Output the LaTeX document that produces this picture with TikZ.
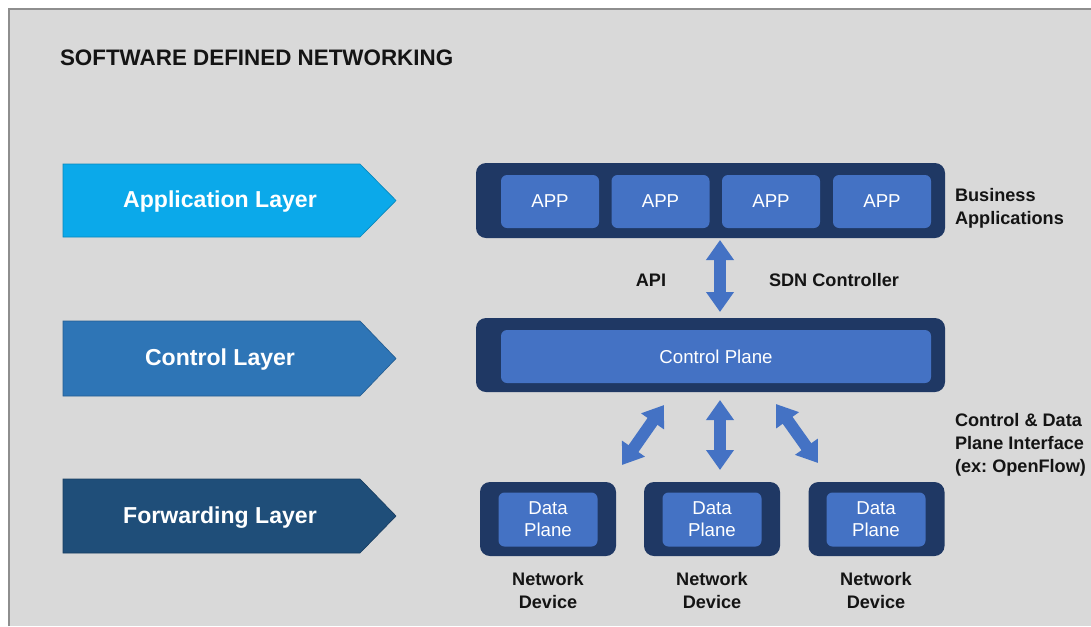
\documentclass[tikz,border=0pt]{standalone}
\usepackage{fontspec}
\setmainfont{Liberation Sans}
\usetikzlibrary{arrows.meta,calc}
\definecolor{bg}{HTML}{D9D9D9}
\definecolor{bordergray}{HTML}{8E8E8E}
\definecolor{appblue}{HTML}{0BA9EA}
\definecolor{ctrlblue}{HTML}{2E75B6}
\definecolor{fwdblue}{HTML}{1F4E79}
\definecolor{navy}{HTML}{1F3864}
\definecolor{midblue}{HTML}{4472C4}
\definecolor{ink}{HTML}{141414}
\newcommand\pxu{0.75pt}
\frenchspacing
\begin{document}
\begin{tikzpicture}[x=0.75pt,y=-0.75pt,
  every node/.style={inner sep=0pt, outer sep=0pt},
  layerlabel/.style={text=white, font=\bfseries\fontsize{17.3}{20}\selectfont},
  container/.style={fill=navy, rounded corners=7.5pt},
  innerbox/.style={fill=midblue, rounded corners=4.5pt, text=white, align=center,
    font=\fontsize{14}{16.5}\selectfont},
  blacklabel/.style={text=ink, font=\bfseries\fontsize{13.6}{17.25}\selectfont},
  fat/.style={draw=midblue, line width=9pt,
    {Triangle[length=15pt,width=20pt]}-{Triangle[length=15pt,width=20pt]}}
]
\useasboundingbox (0,0) rectangle (1091,626);
\fill[white] (0,0) rectangle (1091,626);
\fill[bg] (9,9) rectangle (1091,626);
\draw[bordergray, line width=1.2pt] (9,626) -- (9,9) -- (1091,9);

% title
\node[anchor=west, text=ink, font=\bfseries\fontsize{16.8}{20}\selectfont] (title) at (60,58) {SOFTWARE DEFINED NETWORKING};

% layer arrows
\filldraw[fill=appblue, draw=appblue!80!black, line width=0.5pt]
  (63,164) -- (360,164) -- (396,200.5) -- (360,237) -- (63,237) -- cycle;
\node[layerlabel] (appl) at (220,202) {Application Layer};
\filldraw[fill=ctrlblue, draw=ctrlblue!80!black, line width=0.5pt]
  (63,321) -- (360,321) -- (396,358.5) -- (360,396) -- (63,396) -- cycle;
\node[layerlabel] (ctrll) at (220,360) {Control Layer};
\filldraw[fill=fwdblue, draw=fwdblue!80!black, line width=0.5pt]
  (63,479) -- (360,479) -- (396,516) -- (360,553) -- (63,553) -- cycle;
\node[layerlabel] (fwdl) at (220,517.5) {Forwarding Layer};

% application container
\node[container, minimum width=469*\pxu, minimum height=75*\pxu] (appc) at (710.5,200.5) {};
\node[innerbox, minimum width=98*\pxu, minimum height=53*\pxu] (app1) at (550,201.5) {APP};
\node[innerbox, minimum width=98*\pxu, minimum height=53*\pxu] (app2) at (660.5,201.5) {APP};
\node[innerbox, minimum width=98*\pxu, minimum height=53*\pxu] (app3) at (771,201.5) {APP};
\node[innerbox, minimum width=98*\pxu, minimum height=53*\pxu] (app4) at (882,201.5) {APP};
\node[blacklabel, anchor=west, align=left] (bus) at (955,208) {Business\\Applications};

% control container
\node[container, minimum width=469*\pxu, minimum height=74*\pxu] (ctrl) at (710.5,355) {};
\node[innerbox, minimum width=430*\pxu, minimum height=53*\pxu] (cplane) at (716,356.5) {Control Plane};

\node[blacklabel] (api) at (651,280) {API};
\node[blacklabel] (sdn) at (834,280) {SDN Controller};

% devices
\node[container, minimum width=136*\pxu, minimum height=74*\pxu] (dev1) at (548,519) {};
\node[container, minimum width=136*\pxu, minimum height=74*\pxu] (dev2) at (712,519) {};
\node[container, minimum width=136*\pxu, minimum height=74*\pxu] (dev3) at (876.5,519) {};
\node[innerbox, minimum width=99*\pxu, minimum height=54*\pxu] (dp1) at (548,519.5) {Data\\Plane};
\node[innerbox, minimum width=99*\pxu, minimum height=54*\pxu] (dp2) at (712,519.5) {Data\\Plane};
\node[innerbox, minimum width=99*\pxu, minimum height=54*\pxu] (dp3) at (876,519.5) {Data\\Plane};

\node[blacklabel, align=center] (nd1) at (548,590.5) {Network\\Device};
\node[blacklabel, align=center] (nd2) at (712,590.5) {Network\\Device};
\node[blacklabel, align=center] (nd3) at (876,590.5) {Network\\Device};

\node[blacklabel, anchor=west, align=left] (cdpi) at (955,445) {Control \& Data\\Plane Interface\\(ex: OpenFlow)};

% fat double arrows
\draw[fat] ($(appc.south)+(9.5,2)$) -- ($(ctrl.north)+(9.5,-6)$);
\draw[fat] ($(ctrl.south)+(-46.5,13)$) -- ($(dev1.north)+(74,-17)$);
\draw[fat] ($(ctrl.south)+(9.5,8)$) -- ($(dev2.north)+(8,-12)$);
\draw[fat] ($(ctrl.south)+(65.5,12)$) -- ($(dev3.north)+(-58.5,-19)$);
\end{tikzpicture}
\end{document}
